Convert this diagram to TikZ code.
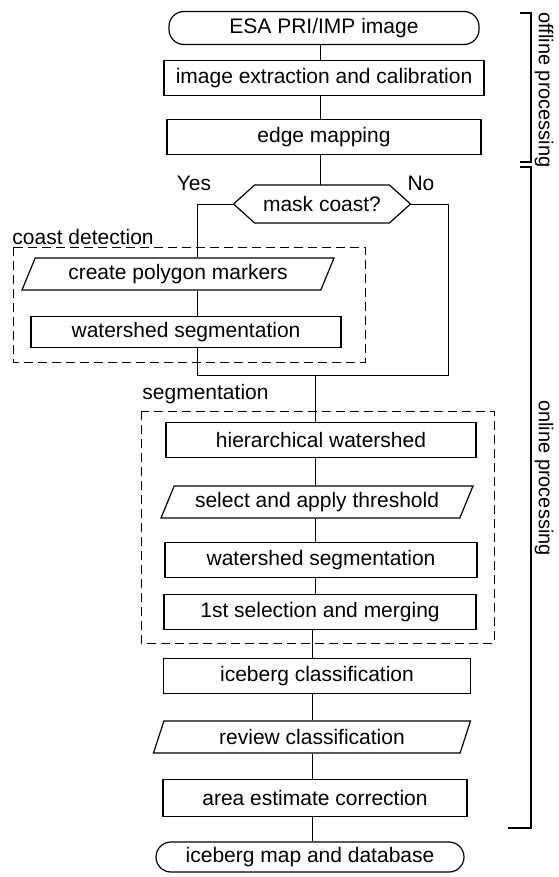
\documentclass[tikz,border=0pt]{standalone}
\usepackage{fontspec}
\setmainfont{Liberation Sans}
\usetikzlibrary{shapes.geometric, positioning}

\begin{document}
\begin{tikzpicture}[
        x=1pt, y=-1pt,
        font=\fontsize{21}{24}\selectfont,
        every node/.style={inner sep=0pt, align=center},
        process/.style={draw, line width=1.2pt, minimum height=35pt},
        terminal/.style={draw, line width=1.2pt, rounded corners=15pt, minimum height=33pt},
        io/.style={draw, line width=1.2pt, trapezium, trapezium left angle=56,
          trapezium right angle=124, trapezium stretches body, minimum height=32pt},
        group/.style={dashed, dash pattern=on 9pt off 5pt, line width=1pt},
        bracket/.style={line width=2.4pt},
        sidelabel/.style={rotate=-90, font=\fontsize{20}{22}\selectfont},
        line width=0.9pt
      ]
      \useasboundingbox (0,0) rectangle (558,877);

      % Nodes
      \node (start) [terminal, minimum width=310pt] at (324,28) {ESA PRI/IMP image};
      \node (extract) [process, minimum width=320pt] at (324,78) {image extraction and calibration};
      \node (edge) [process, minimum width=314pt] at (324,137) {edge mapping};
      \node (mask) [minimum width=176pt, minimum height=37pt] at (322,204) {mask coast?};
      \draw[line width=1.2pt] (mask.west) -- ([xshift=21pt]mask.north west)
        -- ([xshift=-21pt]mask.north east) -- (mask.east)
        -- ([xshift=-21pt]mask.south east) -- ([xshift=21pt]mask.south west) -- cycle;
      \node (yes) at (194,183) {Yes};
      \node (no) at (421,183) {No};

      % coast detection
      \node (coastlbl) [anchor=west] at (12,237) {coast detection};
      \node (poly) [io, minimum width=312pt] at (178,274) {create polygon markers};
      \node (wshedA) [process, minimum width=310pt, minimum height=31pt] at (186,332) {watershed segmentation};
      \draw[group] (13,247) rectangle (365,362);

      % segmentation
      \node (seglbl) [anchor=west] at (142,394) {segmentation};
      \node (hier) [process, minimum width=310pt] at (321,440) {hierarchical watershed};
      \node (thresh) [io, minimum width=312pt] at (317,502) {select and apply threshold};
      \node (wshedB) [process, minimum width=312pt] at (321,560) {watershed segmentation};
      \node (merge) [process, minimum width=312pt] at (320,612) {1st selection and merging};
      \draw[group] (141,411) rectangle (494,643);

      \node (classify) [process, minimum width=307pt] at (317,676) {iceberg classification};
      \node (review) [io, minimum width=317pt] at (312,737) {review classification};
      \node (area) [process, minimum width=304pt, minimum height=37pt] at (315,798) {area estimate correction};
      \node (finish) [terminal, minimum width=308pt, minimum height=30pt] at (310,857) {iceberg map and database};

      \coordinate (yescorner) at (197,204);
      \coordinate (nocorner) at (448,375);
      \coordinate (join) at (315,375);

      % Arrows
      \draw (320,0 |- start.south) coordinate (col) -- (col |- extract.north);
      \draw (col |- extract.south) -- (col |- edge.north);
      \draw (col |- edge.south) -- (col |- mask.north);
      \draw (mask.west) -- (yescorner) -- (yescorner |- poly.north);
      \draw (yescorner |- poly.south) -- (yescorner |- wshedA.north);
      \draw (yescorner |- wshedA.south) -- (yescorner |- nocorner) -- (nocorner)
        -- (nocorner |- mask.east) -- (mask.east);
      \draw (join) -- (join |- hier.north);
      \draw (join |- hier.south) -- (join |- thresh.north);
      \draw (join |- thresh.south) -- (join |- wshedB.north);
      \draw (join |- wshedB.south) -- (join |- merge.north);
      \draw (312,0 |- merge.south) coordinate (low) -- (low |- classify.north);
      \draw (low |- classify.south) -- (low |- review.north);
      \draw (low |- review.south) -- (low |- area.north);
      \draw (low |- area.south) -- (low |- finish.north);

      % Brackets
      \draw[bracket] (520,13) -- (531,13) -- (531,162) -- (520,162);
      \draw[bracket] (520,167) -- (531,167) -- (531,828) -- (508,828);
      \node (offline) [sidelabel] at (544,90) {offline processing};
      \node (online) [sidelabel] at (544,478) {online processing};

    \end{tikzpicture}
\end{document}
